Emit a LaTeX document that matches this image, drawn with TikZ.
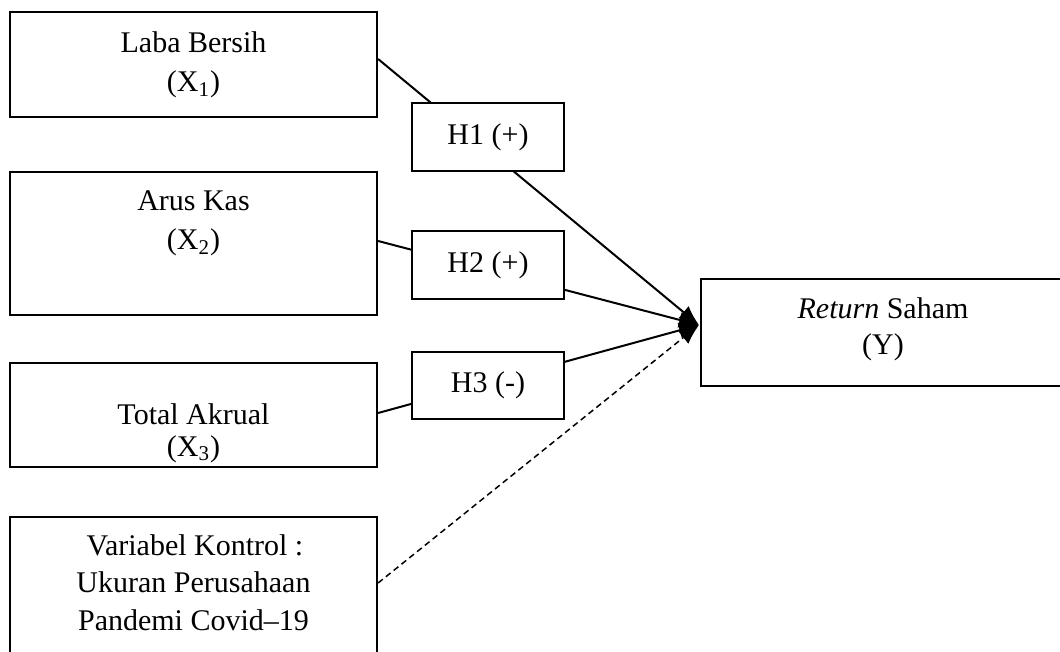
\documentclass[tikz,border=0pt]{standalone}
\usepackage{fontspec}
\setmainfont{Liberation Serif}
\usetikzlibrary{arrows.meta,backgrounds}
\begin{document}
\begin{tikzpicture}[x=0.5pt,y=-0.5pt,
  box/.style={draw,line width=1.1pt,fill=white,inner sep=0pt},
  hbox/.style={box,minimum width=76pt,font=\fontsize{15}{18}\selectfont},
  lbl/.style={anchor=base,inner sep=0pt,font=\fontsize{15}{18}\selectfont},
  conn/.style={line width=1pt,-{Latex[length=10pt,width=8pt]}},
  ctrl/.style={line width=0.75pt,dash pattern=on 3pt off 2pt,-{Latex[length=10pt,width=8pt]}}]
\useasboundingbox (0,0) rectangle (1060,652);
% variable boxes
\node[box,minimum width=183.5pt,minimum height=52.5pt] (b1) at (193.5,64.5) {};
\node[box,minimum width=183.5pt,minimum height=71.5pt] (b2) at (193.5,243.5) {};
\node[box,minimum width=183.5pt,minimum height=52pt] (b3) at (193.5,415) {};
\node[box,minimum width=183.5pt,minimum height=76.5pt] (b4) at (193.5,593.5) {};
\node[box,minimum width=200pt,minimum height=53.5pt] (ret) at (901,332.5) {};
% hypothesis boxes
\node[hbox,minimum height=34pt] (h1) at (488,137) {H1 (+)};
\node[hbox,minimum height=34pt] (h2) at (488,265) {H2 (+)};
\node[hbox,minimum height=33.5pt] (h3) at (488,385.5) {H3 (-)};
% texts
\node[lbl] (t1a) at (193.5,53) {Laba Bersih};
\node[lbl] (t1b) at (193.5,92) {(X\textsubscript{1})};
\node[lbl] (t2a) at (193.5,211) {Arus Kas};
\node[lbl] (t2b) at (193.5,250) {(X\textsubscript{2})};
\node[lbl] (t3a) at (193.5,424) {Total Akrual};
\node[lbl] (t3b) at (193.5,456) {(X\textsubscript{3})};
\node[lbl] (t4a) at (195,555) {Variabel Kontrol :};
\node[lbl] (t4b) at (193.5,592) {Ukuran Perusahaan};
\node[lbl] (t4c) at (193.5,630) {Pandemi Covid–19};
\node[lbl] (tya) at (883,319) {\textit{Return} Saham};
\node[lbl] (tyb) at (883,354) {(Y)};
\coordinate (tip) at (699,325);
% connectors
\begin{scope}[on background layer]
\draw[conn] ([yshift=2.75pt]b1.east) -- (tip);
\draw[conn] ([yshift=1.25pt]b2.east) -- (tip);
\draw[conn] ([yshift=1pt]b3.east) -- (tip);
\draw[ctrl] ([yshift=5.25pt]b4.east) -- (tip);
\end{scope}
\end{tikzpicture}
\end{document}
